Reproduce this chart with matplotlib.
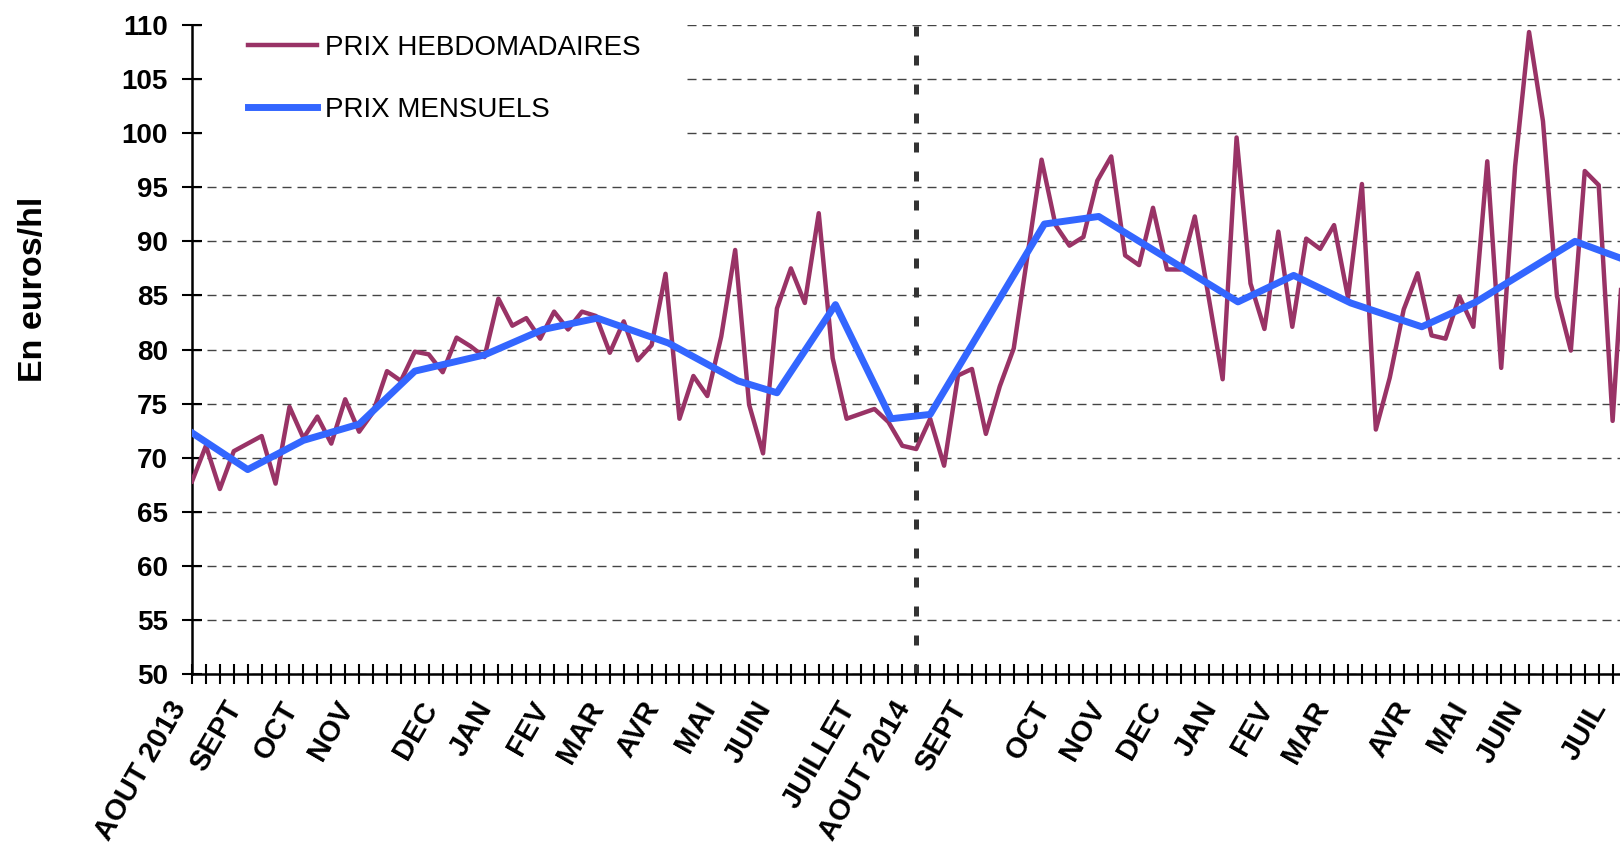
import matplotlib
matplotlib.use("Agg")
import matplotlib.pyplot as plt
from matplotlib.patches import Rectangle

plt.rcParams['font.family'] = ['Liberation Sans', 'DejaVu Sans']

# prix hebdomadaires, une valeur par semaine depuis aout 2013
prix_hebdo = [
    67.8, 71.1, 67.1, 70.6, 71.3, 72.0, 67.6, 74.7, 71.8, 73.8,
    71.3, 75.4, 72.4, 74.2, 78.0, 77.1, 79.8, 79.55, 77.9, 81.1,
    80.3, 79.3, 84.7, 82.2, 82.9, 81.0, 83.5, 81.85, 83.5, 83.1,
    79.7, 82.6, 79.0, 80.4, 87.0, 73.6, 77.55, 75.7, 81.2, 89.2,
    74.9, 70.4, 83.8, 87.5, 84.3, 92.6, 79.2, 73.6, 74.05, 74.5,
    73.3, 71.1, 70.8, 73.6, 69.26, 77.6, 78.2, 72.2, 76.6, 80.1,
    88.8, 97.55, 91.5, 89.6, 90.4, 95.6, 97.85, 88.7, 87.8, 93.1,
    87.4, 87.4, 92.3, 84.8, 77.25, 99.6, 86.1, 81.9, 90.9, 82.1,
    90.25, 89.3, 91.5, 84.8, 95.3, 72.6, 77.4, 83.7, 87.05, 81.3,
    81.0, 84.9, 82.1, 97.4, 78.3, 96.95, 109.35, 101.1, 84.95, 79.9,
    96.5, 95.2, 73.4, 93.5,
]
semaines = list(range(len(prix_hebdo)))

# prix mensuels, places sur l'axe des semaines
mensuel_semaine = [0, 4, 8, 12, 16, 21, 25.2, 29.1, 34.2, 39.2, 42, 46.2,
                   50.2, 53, 61.2, 65.1, 75.1, 79.1, 83.2, 88.3, 92.2, 99.3, 103.5]
mensuel_prix = [72.3, 68.9, 71.6, 73.1, 78.0, 79.5, 81.85, 82.9, 80.6, 77.1, 76.0, 84.15,
                73.6, 74.0, 91.6, 92.3, 84.4, 86.85, 84.3, 82.1, 84.4, 90.0, 88.0]

mois_semaine = [0, 4, 8, 12, 18, 22, 26, 30, 34, 38, 42, 48,
                52, 56, 62, 66, 70, 74, 78, 82, 88, 92, 96, 102]
mois_noms = ['AOUT 2013', 'SEPT', 'OCT', 'NOV', 'DEC', 'JAN', 'FEV', 'MAR', 'AVR', 'MAI', 'JUIN', 'JUILLET',
             'AOUT 2014', 'SEPT', 'OCT', 'NOV', 'DEC', 'JAN', 'FEV', 'MAR', 'AVR', 'MAI', 'JUIN', 'JUIL']

fig = plt.figure(figsize=(16.2, 8.46), dpi=100)
ax = fig.add_axes([192 / 1620, 172 / 846, 1428 / 1620, 649 / 846])

ax.plot(semaines, prix_hebdo, color='#993366', lw=3.2, label='PRIX HEBDOMADAIRES', zorder=3)
ax.plot(mensuel_semaine, mensuel_prix, color='#3366FF', lw=5.0, label='PRIX MENSUELS', zorder=4)
ax.axvline(52, color='#333333', lw=3.6, linestyle=(0, (2, 3.8)), zorder=2)

ax.set_xlim(0, 102.53)
ax.set_ylim(50, 110)
ax.set_yticks(range(50, 111, 5))
ax.set_yticklabels([str(v) for v in range(50, 111, 5)], fontsize=20, fontweight='bold')

labels = [''] * 103
for s, nom in zip(mois_semaine, mois_noms):
    labels[s] = nom
ax.set_xticks(range(103))
ax.set_xticklabels(labels, rotation=60, ha='right', fontsize=21, fontweight='bold')

ax.tick_params(axis='both', direction='inout', length=14.4, width=1.5, color='black')
ax.tick_params(axis='y', pad=10)
ax.tick_params(axis='x', pad=9)

for side in ['top', 'right']:
    ax.spines[side].set_visible(False)
for side in ['left', 'bottom']:
    ax.spines[side].set_linewidth(1.8)

ax.set_axisbelow(True)
ax.yaxis.grid(True, color='#444444', lw=1.0, linestyle=(0, (6.5, 4.3)))

# fond blanc derriere la legende
ax.add_patch(Rectangle((0.008, 0.80), 0.335, 0.21, transform=ax.transAxes,
                       facecolor='white', edgecolor='none', zorder=1, clip_on=False))

ax.legend(loc='upper left', bbox_to_anchor=(0.039, 0.985), frameon=False, fontsize=20,
          handlelength=2.5, handletextpad=0.3, labelspacing=1.3, borderpad=0, borderaxespad=0)

ax.set_ylabel('En euros/hl', fontsize=24.5, fontweight='bold')
ax.yaxis.set_label_coords(-0.1, 0.592)

fig.savefig('out.png', dpi=100)
